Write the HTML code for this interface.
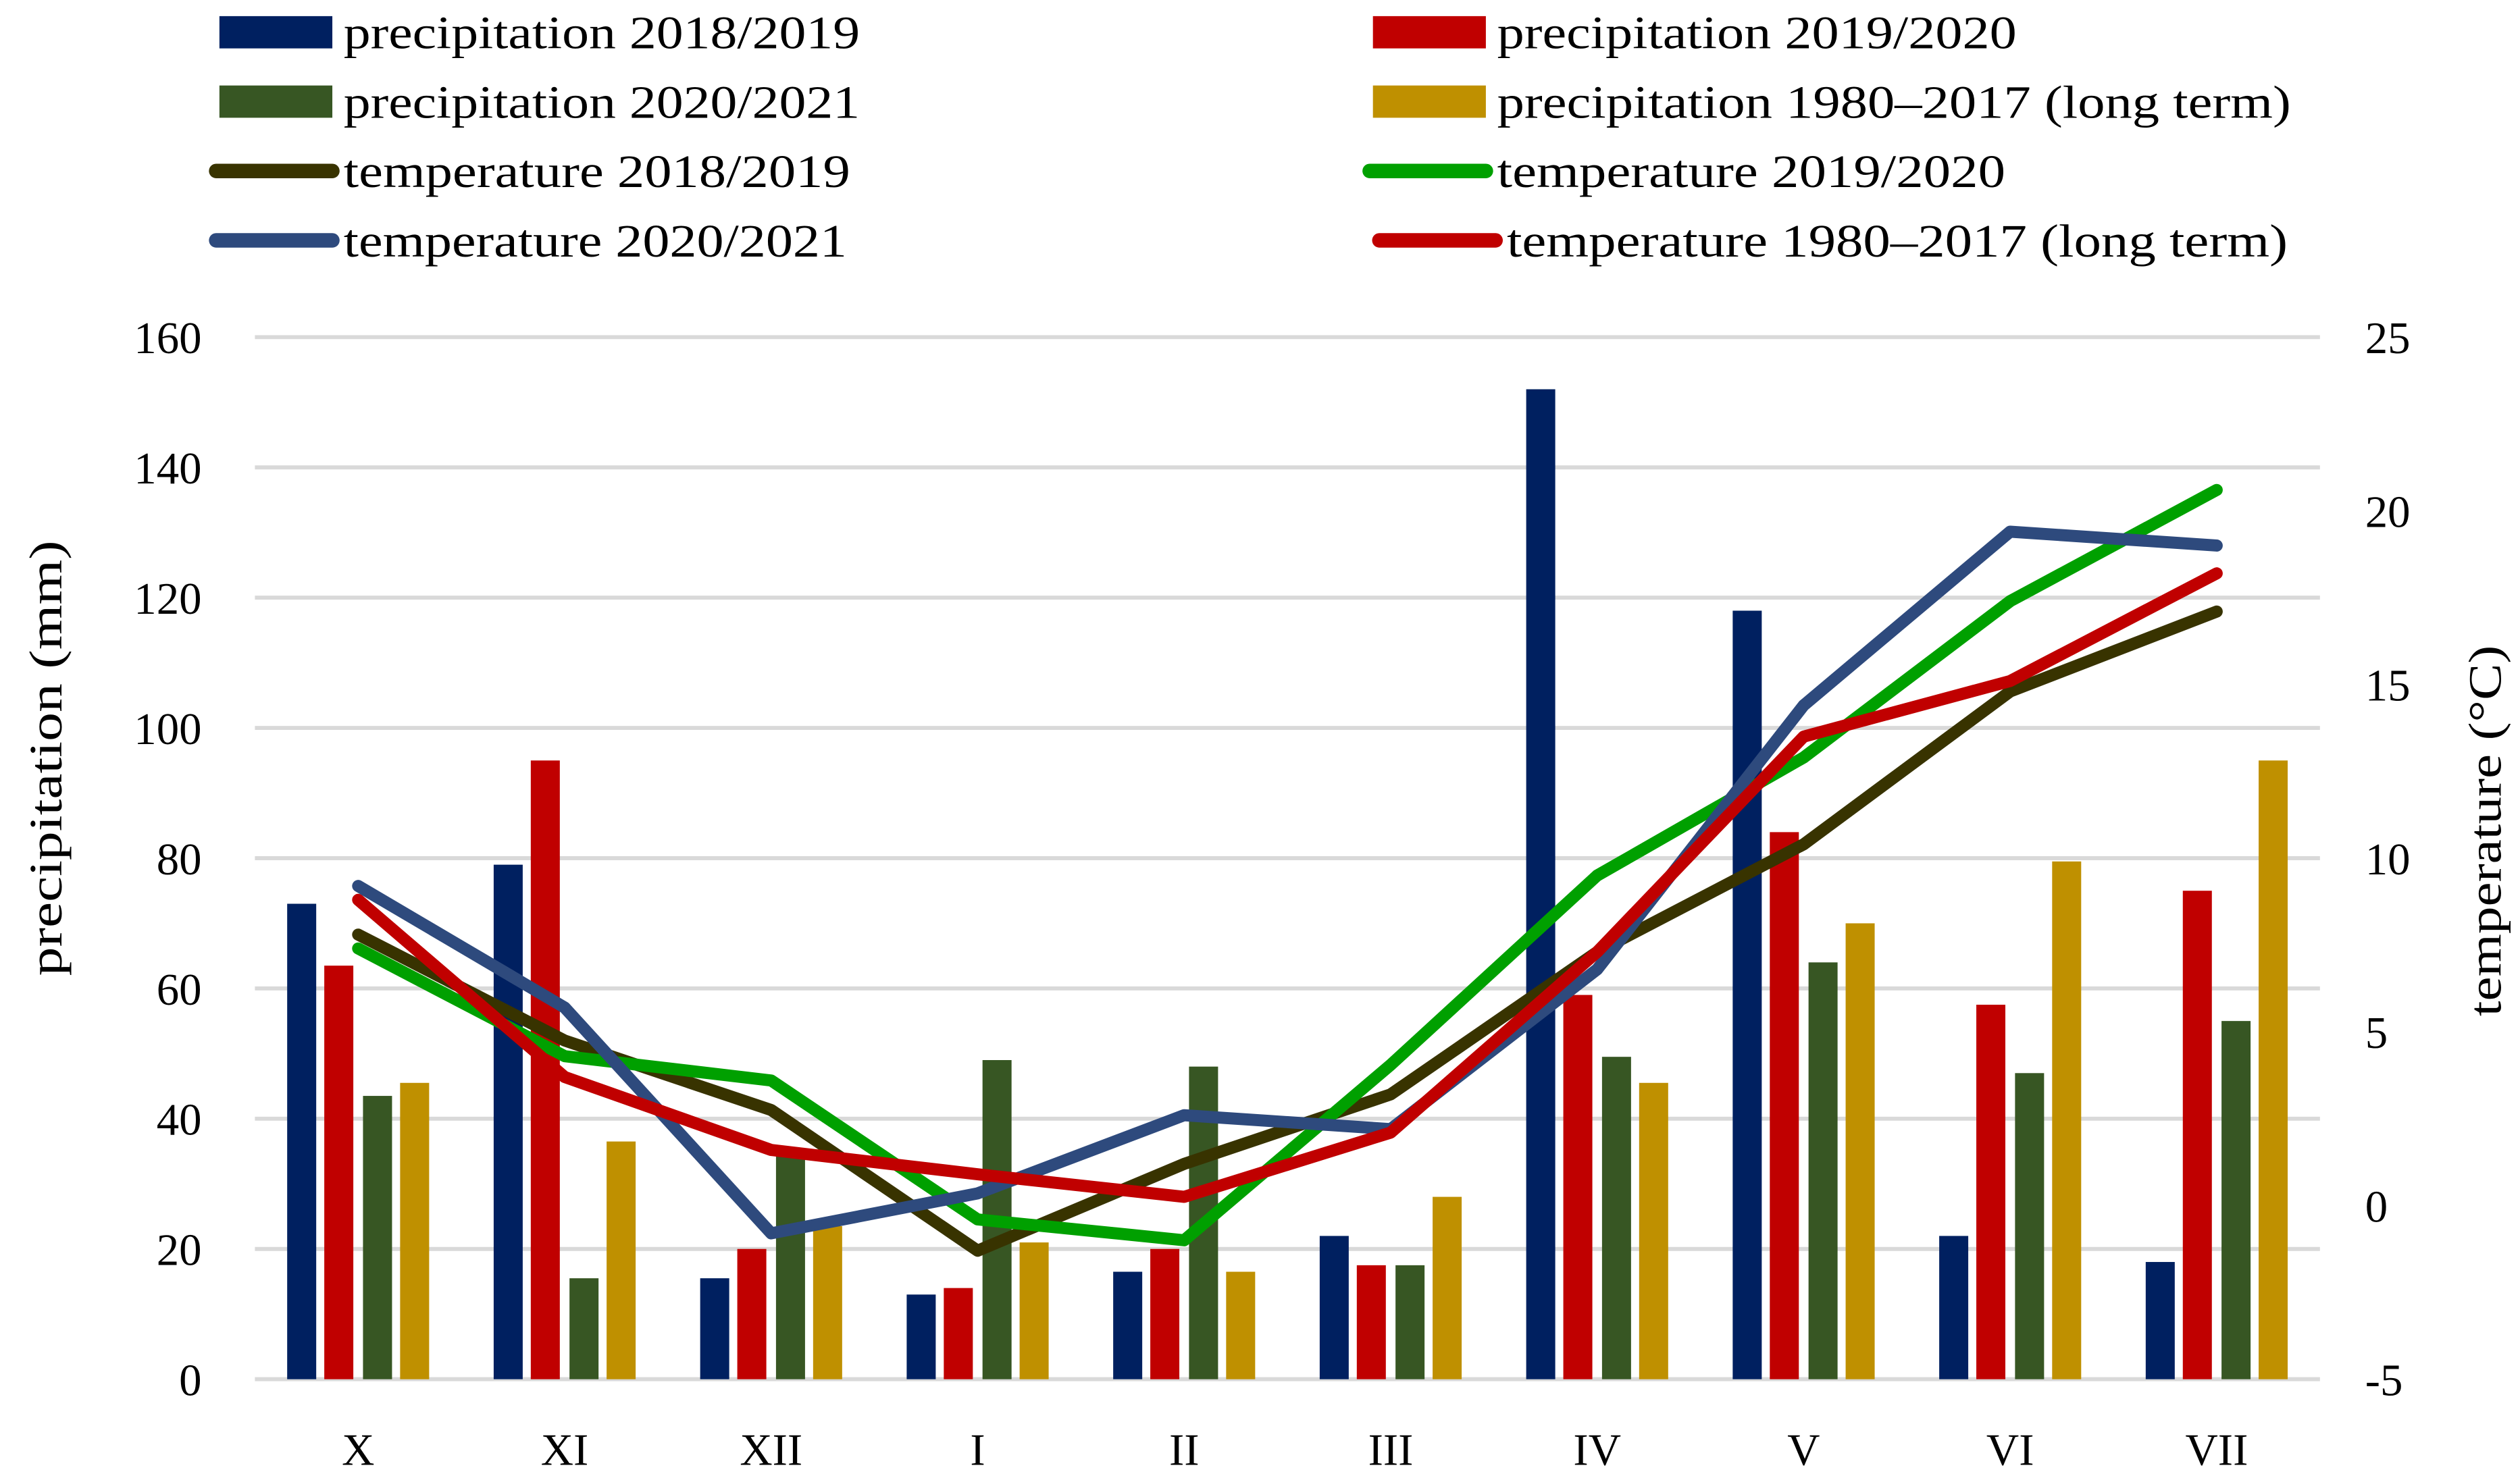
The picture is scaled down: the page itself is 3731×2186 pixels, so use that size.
<!DOCTYPE html>
<html><head><meta charset="utf-8">
<style>
html,body{margin:0;padding:0;background:#fff;}
svg{display:block;}
text{font-family:"Liberation Serif",serif;fill:#000;}
</style></head>
<body>
<svg id="chart" width="3731" height="2186" viewBox="0 0 1562 915" preserveAspectRatio="none" xmlns="http://www.w3.org/2000/svg">
<g id="grid"></g>
<g id="bars"></g>
<g id="lines"></g>
<g id="axes"></g>
<g id="legend"></g>
<text transform="translate(38,470) rotate(-90)" text-anchor="middle" font-size="29" textLength="270" lengthAdjust="spacingAndGlyphs">precipitation (mm)</text>
<text transform="translate(1550,515) rotate(-90)" text-anchor="middle" font-size="29" textLength="230" lengthAdjust="spacingAndGlyphs">temperature (°C)</text>
</svg>
<script>
const categories = ["X","XI","XII","I","II","III","IV","V","VI","VII"];
const precip1819 = [73,79,15.5,13,16.5,22,152,118,22,18];
const precip1920 = [63.5,95,20,14,20,17.5,59,84,57.5,75];
const precip2021 = [43.5,15.5,35,49,48,17.5,49.5,64,47,55];
const precipLong = [45.5,36.5,23.5,21,16.5,28,45.5,70,79.5,95];
const temp1819 = [7.8,4.75,2.75,-1.3,1.2,3.2,7.3,10.4,14.8,17.1];
const temp1920 = [7.4,4.3,3.6,-0.4,-1.0,4.05,9.5,12.9,17.4,20.6];
const temp2021 = [9.2,5.7,-0.8,0.35,2.6,2.2,6.8,14.4,19.4,19.0];
const tempLong = [8.8,3.7,1.6,0.9,0.25,2.1,7.3,13.5,15.1,18.2];
const leftTicks = [0,20,40,60,80,100,120,140,160];
const rightTicks = [-5,0,5,10,15,20,25];

const NS="http://www.w3.org/2000/svg";
const X0=158, X1=1438, TOP=209, BOT=855;
const band=(X1-X0)/categories.length;
const xc=i=>X0+band*(i+0.5);
const yL=v=>BOT-(v/160)*(BOT-TOP);
const yR=v=>BOT-((v+5)/30)*(BOT-TOP);
function mk(tag,attrs,parent){const e=document.createElementNS(NS,tag);for(const k in attrs)e.setAttribute(k,attrs[k]);parent.appendChild(e);return e;}
const grid=document.getElementById('grid'),bars=document.getElementById('bars'),lines=document.getElementById('lines'),axes=document.getElementById('axes'),legend=document.getElementById('legend');

leftTicks.forEach(t=>{
  const l=mk('line',{x1:X0,x2:X1,y1:yL(t),y2:yL(t),stroke:'#d9d9d9','stroke-width':2.5},grid);
  
  
  const tx=mk('text',{x:125,y:yL(t)+10,'text-anchor':'end','font-size':28},axes);
  tx.textContent=t;
  
  
});
rightTicks.forEach(t=>{
  const tx=mk('text',{x:1466,y:yR(t)+10,'text-anchor':'start','font-size':28},axes);
  tx.textContent=t;
  
  
});
categories.forEach((c,i)=>{
  const tx=mk('text',{x:xc(i),y:908,'text-anchor':'middle','font-size':28},axes);
  tx.textContent=c;
  
  
});

const barSeries=[[precip1819,'#002060',-35],[precip1920,'#C00000',-12],[precip2021,'#375623',12],[precipLong,'#BF9000',35]];
barSeries.forEach(([arr,col,off])=>{
  arr.forEach((v,i)=>{
    const r=mk('rect',{x:xc(i)+off-9,y:yL(v),width:18,height:BOT-yL(v),fill:col},bars);
    
    
  });
});
const lineSeries=[[temp1819,'#383300'],[temp1920,'#00A000'],[temp2021,'#2E4A7D'],[tempLong,'#C00000']];
lineSeries.forEach(([arr,col])=>{
  const p=mk('polyline',{points:arr.map((v,i)=>xc(i)+','+yR(v)).join(' '),fill:'none',stroke:col,'stroke-width':7.5,'stroke-linejoin':'round','stroke-linecap':'round'},lines);
  
  
});

const leg=[
 ['bar','#002060','precipitation 2018/2019',130,20,320],['bar','#C00000','precipitation 2019/2020',845,20,322],
 ['bar','#375623','precipitation 2020/2021',130,63,320],['bar','#BF9000','precipitation 1980–2017 (long term)',845,63,492],
 ['line','#383300','temperature 2018/2019',130,106,314],['line','#00A000','temperature 2019/2020',845,106,315],
 ['line','#2E4A7D','temperature 2020/2021',130,149,312],['line','#C00000','temperature 1980–2017 (long term)',851,149,484]];
leg.forEach(([t,col,label,x,y,w])=>{
  const g=mk('g',{},legend);
  
  
  if(t==='bar') mk('rect',{x:x+6,y:y-10,width:70,height:20,fill:col},g);
  else mk('line',{x1:x+4,x2:x+76,y1:y,y2:y,stroke:col,'stroke-width':9,'stroke-linecap':'round'},g);
  const tx=mk('text',{x:x+83,y:y+10,'font-size':29,textLength:w,lengthAdjust:'spacingAndGlyphs'},g);
  tx.textContent=label;
});
</script>
</body></html>
